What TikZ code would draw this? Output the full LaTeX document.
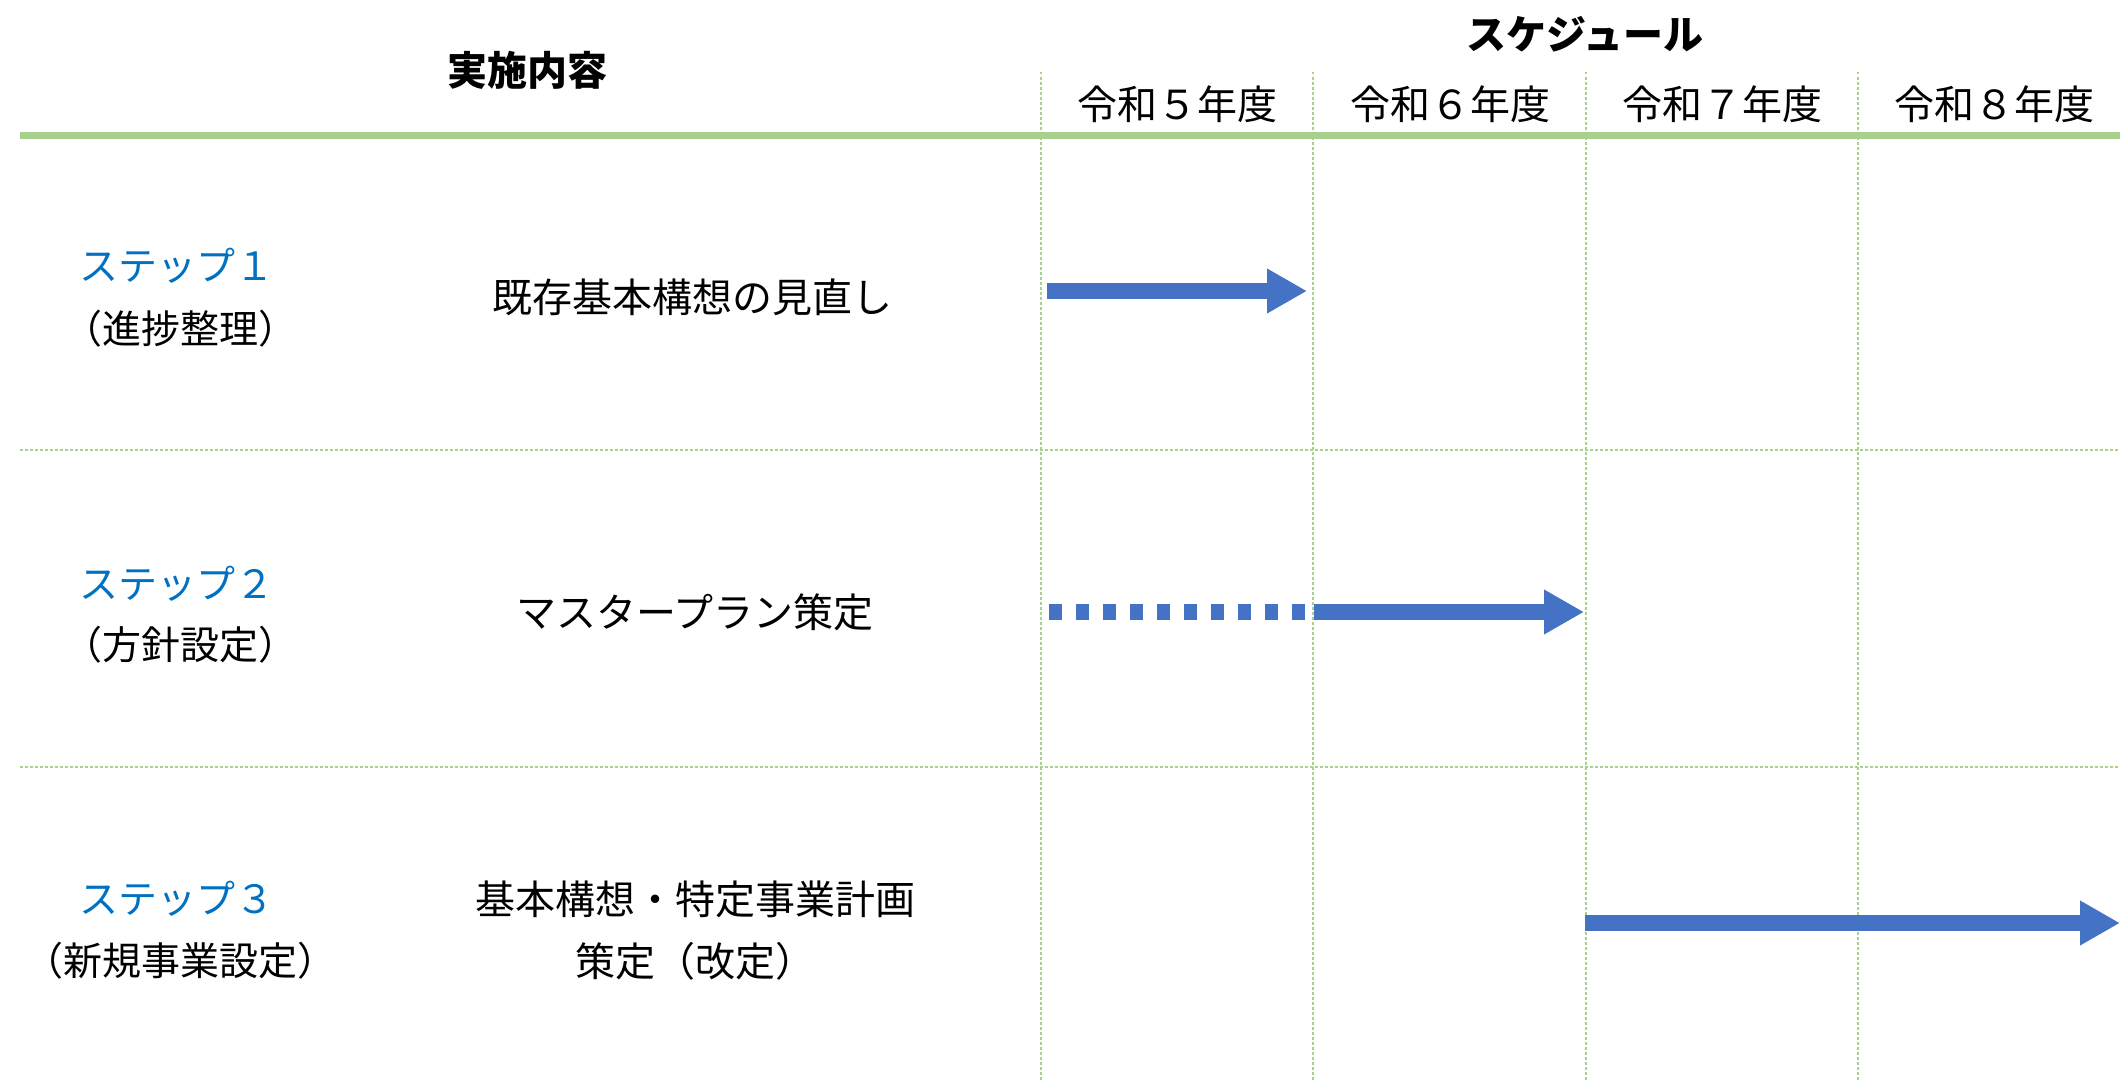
\documentclass[tikz,border=0pt]{standalone}
\usepackage{fontspec}
\setmainfont{Noto Sans CJK JP}
\usetikzlibrary{arrows.meta}
\definecolor{bar}{HTML}{4472C4}
\definecolor{gline}{HTML}{A9D18E}
\definecolor{stepc}{HTML}{0070C0}
\begin{document}
\begin{tikzpicture}[x=1pt,y=-1pt,
  txt/.style={inner sep=0pt, font=\fontsize{40}{52}\selectfont, align=center},
  steptxt/.style={inner sep=0pt, font=\fontsize{39}{50}\selectfont, align=center},
  head/.style={inner sep=0pt, font=\fontsize{40}{52}\selectfont\bfseries},
  grid/.style={draw=gline, line width=2.2pt, dash pattern=on 2.5pt off 2.5pt},
  bararrow/.style={draw=bar, line width=16pt, -{Triangle[length=40pt,width=42pt]}},
  dashbar/.style={draw=bar, line width=16pt, dash pattern=on 13pt off 14pt}
]
\useasboundingbox (0,0) rectangle (2120,1081);
% header
\node[head] (hdA) at (527,70) {実施内容};
\node[head] (hdB) at (1585,34) {スケジュール};
\node[txt] (y5) at (1177,104) {令和５年度};
\node[txt] (y6) at (1450,104) {令和６年度};
\node[txt] (y7) at (1722,104) {令和７年度};
\node[txt] (y8) at (1994,104) {令和８年度};
% grid
\foreach \xx/\nm in {1041/a,1313/b,1586/c,1858/d}{
  \coordinate (v\nm t) at (\xx,72);
  \coordinate (v\nm b) at (\xx,1081);
  \draw[grid] (v\nm t) -- (v\nm b);
}
\coordinate (h1l) at (20,450); \coordinate (h1r) at (2120,450);
\coordinate (h2l) at (20,767); \coordinate (h2r) at (2120,767);
\draw[grid] (h1l) -- (h1r);
\draw[grid] (h2l) -- (h2r);
\coordinate (gl) at (20,135); \coordinate (gr) at (2120,135);
\draw[gline, line width=7pt] (gl) -- (gr);
% rows
\node[steptxt, text=stepc] (s1) at (177,266) {ステップ１};
\node[steptxt] (s1b) at (180,329) {（進捗整理）};
\node[txt] (c1) at (692,297) {既存基本構想の見直し};
\node[steptxt, text=stepc] (s2) at (177,584) {ステップ２};
\node[steptxt] (s2b) at (180,645) {（方針設定）};
\node[txt] (c2) at (695,612) {マスタープラン策定};
\node[steptxt, text=stepc] (s3) at (177,899) {ステップ３};
\node[steptxt] (s3b) at (180,961) {（新規事業設定）};
\node[txt] (c3a) at (695,899) {基本構想・特定事業計画};
\node[txt] (c3b) at (695,961) {策定（改定）};
% bars
\coordinate (a1s) at (1047,291); \coordinate (a1e) at (1307,291);
\draw[bararrow] (a1s) -- (a1e);
\coordinate (a2s) at (1049,612); \coordinate (a2m) at (1309,612);
\coordinate (a2n) at (1314,612); \coordinate (a2e) at (1584,612);
\draw[dashbar] (a2s) -- (a2m);
\draw[bararrow] (a2n) -- (a2e);
\coordinate (a3s) at (1585,923); \coordinate (a3e) at (2120,923);
\draw[bararrow] (a3s) -- (a3e);
\end{tikzpicture}
\end{document}
